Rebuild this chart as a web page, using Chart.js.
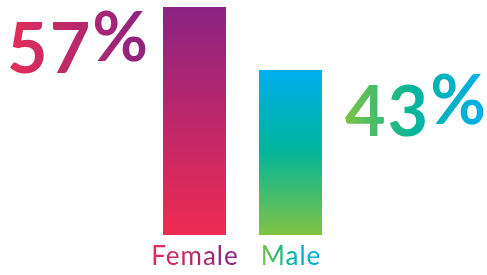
<!DOCTYPE html>
<html><head><meta charset="utf-8">
<script src="https://cdn.jsdelivr.net/npm/chart.js@4"></script>
<style>html,body{margin:0;padding:0;background:#fff;overflow:hidden}#wrap{width:487px;height:275px}</style>
</head><body><div id="wrap"><canvas id="c" width="487" height="275"></canvas></div>
<script>
const categories = ["Female", "Male"];
const shares = [57, 43];
const shareText = ["57", "43"];
const barStops = [
  [[0, "#8B2382"], [1, "#EE2B51"]],
  [[0, "#00AEEF"], [0.48, "#00B59D"], [1, "#80C342"]]
];
const textStops = [
  [[0, "#E42E58"], [1, "#8B2382"]],
  [[0, "#7DC242"], [0.5, "#00B59D"], [1, "#00AEEF"]]
];

function grad(ctx, x0, y0, x1, y1, stops) {
  const g = ctx.createLinearGradient(x0, y0, x1, y1);
  stops.forEach(s => g.addColorStop(s[0], s[1]));
  return g;
}

const labelPlugin = {
  id: 'labels',
  afterDatasetsDraw(chart) {
    const ctx = chart.ctx;
    const meta = chart.getDatasetMeta(0);
    const area = chart.chartArea;
    meta.data.forEach((bar, i) => {
      ctx.save();
      ctx.textBaseline = 'alphabetic';
      ctx.textAlign = 'left';
      ctx.letterSpacing = '2px';
      ctx.font = 'bold 70px Lato';
      const dW = ctx.measureText(shareText[i]).width;
      ctx.letterSpacing = '0px';
      ctx.font = 'bold 68px Lato';
      const pW = ctx.measureText('%').width;
      const gap = 0;
      const total = dW + gap + pW;
      const left = i === 0 ? bar.x - bar.width / 2 - 15 - total : bar.x + bar.width / 2 + 23;
      const base = bar.y + 66;
      ctx.fillStyle = grad(ctx, left, 0, left + total, 0, textStops[i]);
      ctx.letterSpacing = '2px';
      ctx.font = 'bold 70px Lato';
      ctx.fillText(shareText[i], left, base);
      ctx.letterSpacing = '0px';
      ctx.font = 'bold 68px Lato';
      ctx.fillText('%', left + dW + gap, base - 12);
      ctx.font = '26px Lato';
      ctx.letterSpacing = '1px';
      ctx.textAlign = 'center';
      const w = ctx.measureText(categories[i]).width;
      ctx.fillStyle = grad(ctx, bar.x - w / 2, 0, bar.x + w / 2, 0, textStops[i]);
      ctx.fillText(categories[i], bar.x + 0.5, area.bottom + 30);
      ctx.restore();
    });
  }
};

new Chart(document.getElementById('c'), {
  type: 'bar',
  data: {
    labels: categories,
    datasets: [{
      data: shares,
      borderWidth: 0,
      backgroundColor: (c) => {
        const chart = c.chart;
        const area = chart.chartArea;
        const ys = chart.scales && chart.scales.y;
        if (!area || !ys || c.dataIndex === undefined) return '#ccc';
        let top = ys.getPixelForValue(shares[c.dataIndex]);
        if (!isFinite(top)) top = area.top;
        let bottom = area.bottom;
        if (!isFinite(bottom) || bottom <= top) bottom = top + 1;
        return grad(chart.ctx, 0, top, 0, bottom, barStops[c.dataIndex]);
      }
    }]
  },
  options: {
    responsive: false,
    devicePixelRatio: 1,
    animation: false,
    layout: { padding: { left: 146.5, right: 148.5, top: 7, bottom: 40 } },
    plugins: { legend: { display: false }, tooltip: { enabled: false } },
    datasets: { bar: { categoryPercentage: 1, barPercentage: 0.656 } },
    scales: {
      x: { display: false },
      y: { display: false, min: 6.3, max: 57 }
    }
  },
  plugins: [labelPlugin]
});
</script>
</body></html>
